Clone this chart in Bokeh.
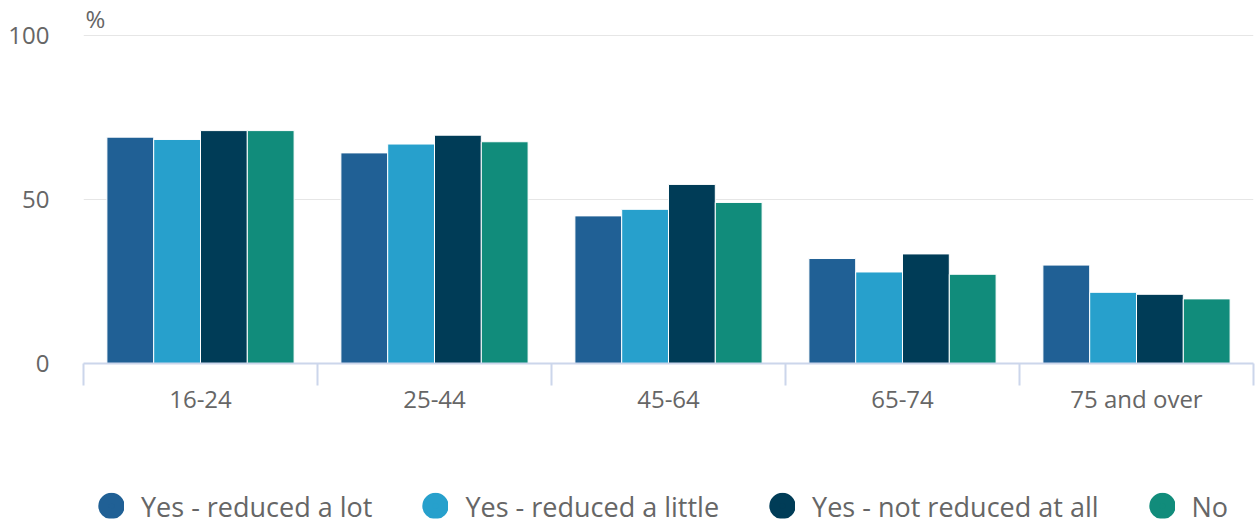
from bokeh.plotting import figure
from bokeh.layouts import column
from bokeh.models import (ColumnDataSource, FactorRange, Range1d, LinearAxis,
                          FixedTicker, Legend, LegendItem, Title)
from bokeh.transform import dodge
from bokeh.embed import file_html
from bokeh.resources import INLINE

# Share of people (%) in each age group, by whether they reduced their spending
age_groups = ["16-24", "25-44", "45-64", "65-74", "75 and over"]
reduced_a_lot = [69.0, 64.2, 45.0, 32.0, 30.0]
reduced_a_little = [68.3, 66.9, 47.0, 27.9, 21.7]
not_reduced_at_all = [71.0, 69.6, 54.6, 33.4, 21.1]
no_change = [71.0, 67.6, 49.1, 27.2, 19.7]

series_names = ["Yes - reduced a lot", "Yes - reduced a little",
                "Yes - not reduced at all", "No"]
series_keys = ["lot", "little", "none", "no"]
series_colors = ["#206095", "#27a0cc", "#003c57", "#118c7b"]
y_ticks = [0, 50, 100]
y_unit = "%"

FONT = "Open Sans"
TEXT_GREY = "#666666"

source = ColumnDataSource(dict(
    age=age_groups,
    lot=reduced_a_lot,
    little=reduced_a_little,
    none=not_reduced_at_all,
    no=no_change,
))

# ---- main chart -----------------------------------------------------------
p = figure(
    x_range=FactorRange(*age_groups, range_padding=0),
    y_range=Range1d(0, 100.6),
    width=1255, height=485,
    min_border_left=83, min_border_right=2,
    min_border_top=33, min_border_bottom=122,
    x_axis_location=None,
    output_backend="svg", toolbar_location=None,
)
p.outline_line_color = None
p.background_fill_color = "white"
p.border_fill_color = "white"

# unit shown above the value axis
p.add_layout(Title(text=y_unit, align="left", offset=2, standoff=-3,
                   text_font=FONT, text_font_size="24px",
                   text_font_style="normal", text_color=TEXT_GREY), "above")

# grouped bars, four per age group
bar_w = 0.2
n_series = len(series_keys)
for i, (key, color) in enumerate(zip(series_keys, series_colors)):
    offset = (i - (n_series - 1) / 2) * bar_w
    p.vbar(x=dodge("age", offset, range=p.x_range), top=key, width=bar_w,
           source=source, fill_color=color, line_color="white", line_width=1)

# y axis: labels only, light horizontal gridlines
p.yaxis.ticker = FixedTicker(ticks=y_ticks)
p.yaxis.axis_line_color = None
p.yaxis.major_tick_line_color = None
p.yaxis.minor_tick_line_color = None
p.yaxis.major_tick_out = 0
p.yaxis.major_tick_in = 0
p.yaxis.major_label_standoff = 34
p.yaxis.major_label_text_font = FONT
p.yaxis.major_label_text_font_size = "24px"
p.yaxis.major_label_text_color = TEXT_GREY
p.ygrid.grid_line_color = "#e6e6e6"
p.ygrid.grid_line_width = 1
p.xgrid.grid_line_color = None

# x axis: category names at the factor centres (synthetic coordinate i + 0.5),
# tick marks on the boundaries between factors
n_groups = len(age_groups)
centres = [i + 0.5 for i in range(n_groups)]
bounds = [float(i) for i in range(n_groups + 1)]
xaxis = LinearAxis(
    ticker=FixedTicker(ticks=centres, minor_ticks=bounds),
    major_label_overrides={c: name for c, name in zip(centres, age_groups)},
    axis_line_color="#ccd6eb", axis_line_width=2,
    major_tick_line_color=None, major_tick_out=0, major_tick_in=0,
    minor_tick_line_color="#ccd6eb", minor_tick_line_width=2,
    minor_tick_out=22, minor_tick_in=0,
    major_label_standoff=-4,
    major_label_text_font=FONT,
    major_label_text_font_size="24px",
    major_label_text_color=TEXT_GREY,
)
p.add_layout(xaxis, "below")

# ---- legend strip ---------------------------------------------------------
leg = figure(
    x_range=Range1d(0, 1), y_range=Range1d(0, 1),
    width=1255, height=41,
    min_border_left=83, min_border_right=2,
    min_border_top=0, min_border_bottom=0,
    x_axis_location=None, y_axis_location=None,
    output_backend="svg", toolbar_location=None,
)
leg.outline_line_color = None
leg.xgrid.visible = False
leg.ygrid.visible = False

swatches = []
for key, color in zip(series_keys, series_colors):
    # hidden renderers that only supply the round legend swatches
    swatches.append(
        leg.scatter(x="age", y=key, source=source, marker="circle",
                    fill_color=color, line_color=color, line_width=16,
                    visible=False)
    )

legend = Legend(
    items=[LegendItem(label=name, renderers=[r])
           for name, r in zip(series_names, swatches)],
    orientation="horizontal",
    location="center_left",
    glyph_width=26, glyph_height=26,
    label_standoff=17, spacing=50,
    padding=0, margin=15,
    label_text_font=FONT, label_text_font_size="27px",
    label_text_color=TEXT_GREY,
    background_fill_alpha=0, border_line_color=None,
)
leg.add_layout(legend, "center")

open("out.html", "w").write(file_html(column(p, leg, spacing=0), INLINE))
